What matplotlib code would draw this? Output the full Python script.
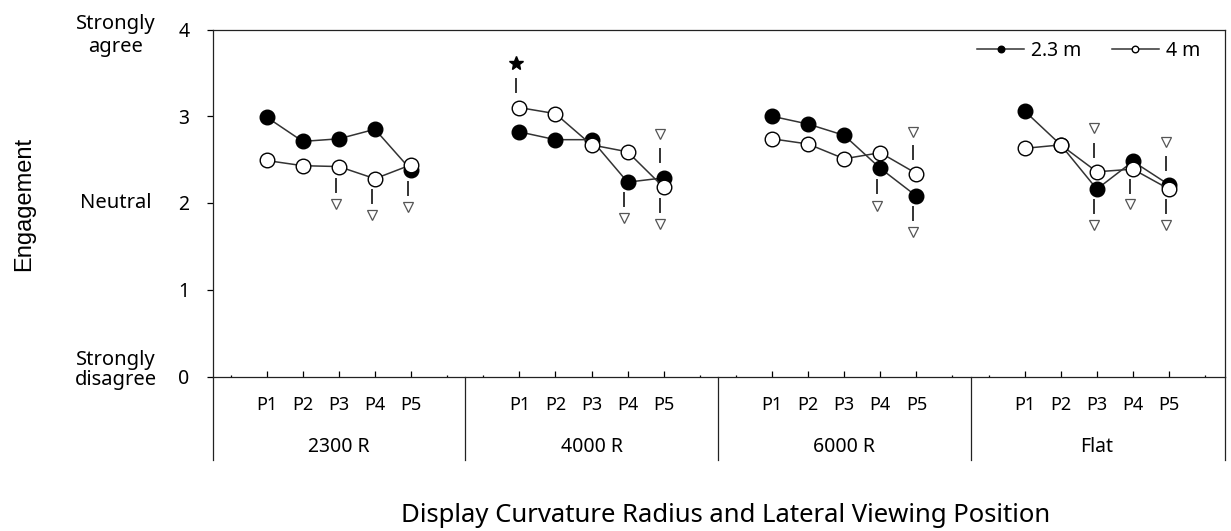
import numpy as np
import matplotlib
matplotlib.use("Agg")
import matplotlib.pyplot as plt
import matplotlib.transforms as mtransforms

plt.rcParams['font.family'] = ['Noto Sans', 'DejaVu Sans']

# Data
groups = ["2300 R", "4000 R", "6000 R", "Flat"]
positions = ["P1", "P2", "P3", "P4", "P5"]

near_23m = [
    [2.99, 2.71, 2.74, 2.85, 2.38],
    [2.82, 2.73, 2.73, 2.24, 2.29],
    [3.00, 2.91, 2.78, 2.40, 2.08],
    [3.06, 2.67, 2.16, 2.48, 2.21],
]
far_4m = [
    [2.49, 2.43, 2.42, 2.28, 2.44],
    [3.10, 3.03, 2.67, 2.59, 2.18],
    [2.74, 2.68, 2.51, 2.58, 2.34],
    [2.63, 2.67, 2.36, 2.39, 2.16],
]

# significance marks: (group index, position index, marker, y)
sig_group = [0, 0, 0, 1, 1, 1, 1, 2, 2, 2, 3, 3, 3, 3, 3]
sig_pos = [2, 3, 4, 0, 3, 4, 4, 3, 4, 4, 2, 2, 3, 4, 4]
sig_marker = ['v', 'v', 'v', '*', 'v', 'v', 'v', 'v', 'v', 'v', 'v', 'v', 'v', 'v', 'v']
sig_y = [1.99, 1.86, 1.95, 3.61, 1.83, 2.80, 1.76, 1.97, 2.82, 1.67, 2.86, 1.75, 1.99, 2.70, 1.75]

y_ticks = [0, 1, 2, 3, 4]
y_text = ["Strongly\ndisagree", "Neutral", "Strongly\nagree"]
y_text_at = [0.07, 2.0, 3.93]

GROUP_STEP = 7


def xpos(g, p):
    return g * GROUP_STEP + p + 1


fig = plt.figure(figsize=(12.31, 5.31), dpi=100)
ax = fig.add_axes([212.5 / 1231, 1 - 376.5 / 531, 1012.5 / 1231, 347 / 531])

line_color = '#333333'
for g in range(len(groups)):
    xs = [xpos(g, p) for p in range(len(positions))]
    ax.plot(xs, near_23m[g], color=line_color, lw=1.1, marker='o', ms=10.5,
            mfc='black', mec='black', zorder=3, label='2.3 m' if g == 0 else None)
    ax.plot(xs, far_4m[g], color=line_color, lw=1.1, marker='o', ms=10.5,
            mfc='white', mec='black', mew=1.0, zorder=3, label='4 m' if g == 0 else None)

# significance markers with the short dash pointing to the data
dash_len = 0.15
shift = -0.09
for g, p, m, y in zip(sig_group, sig_pos, sig_marker, sig_y):
    x = xpos(g, p) + shift
    vals = [near_23m[g][p], far_4m[g][p]]
    ref = max(vals) if y > max(vals) else min(vals)
    mid = (ref + y) / 2
    ax.plot([x, x], [mid - dash_len / 2, mid + dash_len / 2], color=line_color, lw=1.4, zorder=2)
    if m == 'v':
        ax.plot(x, y, marker='v', ms=7.5, mfc='white', mec='#555555', mew=0.9, zorder=2)
    else:
        ax.plot(x, y, marker='*', ms=10, mfc='black', mec='black', zorder=2)

ax.set_xlim(-0.5, 27.55)
ax.set_ylim(0, 4)
ax.set_yticks(y_ticks)
ax.set_yticklabels([str(t) for t in y_ticks], fontsize=14)
ax.tick_params(axis='y', direction='out', length=4.5, width=0.9, pad=12)

major_x = [xpos(g, p) for g in range(len(groups)) for p in range(len(positions))]
minor_x = [0, 6, 7, 13, 14, 20, 21, 27]
ax.set_xticks(major_x)
ax.set_xticklabels([])
ax.set_xticks(minor_x, minor=True)
ax.tick_params(axis='x', which='major', direction='in', length=4, width=0.9)
ax.tick_params(axis='x', which='minor', direction='in', length=1.5, width=0.9)

for s in ax.spines.values():
    s.set_linewidth(0.9)
    s.set_color('#222222')

# category table below the axis
trans = mtransforms.blended_transform_factory(ax.transData, ax.transAxes)
for xv in [-0.5, 6.5, 13.5, 20.5, 27.55]:
    ax.plot([xv, xv], [0, -0.241], color='#222222', lw=0.9, transform=trans, clip_on=False)
for g, name in enumerate(groups):
    for p, lab in enumerate(positions):
        ax.text(xpos(g, p), -0.082, lab, transform=trans, ha='center', va='center', fontsize=13)
    ax.text(xpos(g, 2), -0.203, name, transform=trans, ha='center', va='center', fontsize=14)

# verbal anchors of the scale
trans_y = mtransforms.blended_transform_factory(ax.transAxes, ax.transData)
for t, yv in zip(y_text, y_text_at):
    ls = 1.0 if 'disagree' in t else 1.2
    ax.text(-0.0953, yv, t, transform=trans_y, ha='center', va='center',
            fontsize=14.5, linespacing=ls)

fig.text(24 / 1231, 1 - 204 / 531, "Engagement", rotation=90, ha='center', va='center',
         fontsize=17, family=['Liberation Sans', 'DejaVu Sans'])
fig.text(726 / 1231, 1 - 516 / 531, "Display Curvature Radius and Lateral Viewing Position",
         ha='center', va='center', fontsize=18.5)

ax.legend(loc='upper right', bbox_to_anchor=(0.9753, 0.967), ncol=2, frameon=False,
          fontsize=14, markerscale=0.45, handlelength=2.4, handletextpad=0.35,
          columnspacing=1.6, borderpad=0, borderaxespad=0)

fig.savefig("out.png", dpi=100)
